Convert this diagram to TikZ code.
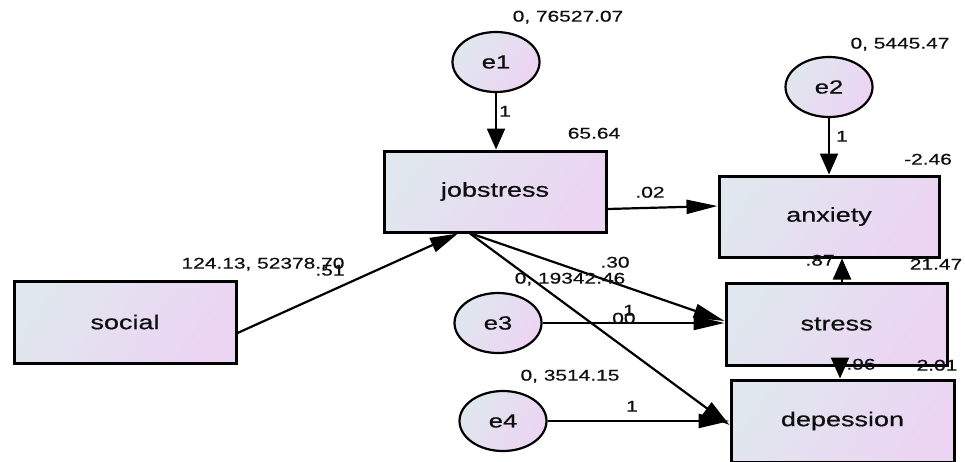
\documentclass[tikz,border=0pt]{standalone}
\usepackage{fontspec}
\setmainfont{Liberation Sans}[FakeStretch=1.35,FakeBold=0.6]
\usetikzlibrary{arrows.meta,shapes.geometric}
\definecolor{fillA}{RGB}{224,231,238}
\definecolor{fillB}{RGB}{236,212,243}
\definecolor{inkc}{RGB}{15,15,15}
\tikzset{
  varbox/.style={draw=black, line width=3pt, rectangle, inner sep=0pt,
    minimum width=222pt, minimum height=82pt,
    left color=fillA, right color=fillB, shading angle=55,
    font=\fontsize{20}{22}\selectfont, text=inkc},
  errnode/.style={draw=black, line width=2.2pt, ellipse, inner sep=0pt,
    minimum width=87pt, minimum height=60pt,
    left color=fillA, right color=fillB, shading angle=55,
    font=\fontsize{19}{21}\selectfont, text=inkc},
  est/.style={inner sep=0pt, text height=0.72em, text depth=0pt,
    font=\fontsize{15.5}{17}\selectfont, text=inkc},
  path/.style={draw=black, line width=2.2pt},
  harr/.style={path, -{Triangle[length=31pt,width=14pt]}},
  varr/.style={path, -{Triangle[length=21pt,width=18pt]}},
  darr/.style={path, -{Triangle[length=28pt,width=15pt]}}
}
\begin{document}
\begin{tikzpicture}[x=1pt,y=-1pt]
\useasboundingbox (0,0) rectangle (965,461);

% observed variables
\node[varbox] (social) at (125,322) {social};
\node[varbox, minimum height=81pt] (jobstress) at (495,191.5) {jobstress};
\node[varbox, minimum width=220pt, minimum height=81pt] (anxiety) at (829,216.5) {anxiety};
\node[varbox, minimum width=221pt] (stress) at (836.5,324) {stress};
\node[varbox, minimum width=223pt] (depession) at (842.5,421) {depession};

% error terms
\node[errnode] (e1) at (496,62) {e1};
\node[errnode] (e2) at (829,87) {e2};
\node[errnode] (e3) at (498,323) {e3};
\node[errnode] (e4) at (503,421) {e4};

% regression paths
\draw[varr] (e1.south) -- (e1.south |- jobstress.north);
\draw[varr] (e2.south) -- (e2.south |- anxiety.north);
\draw[harr] ([yshift=-17.5pt]jobstress.east) -- ([yshift=10.5pt]anxiety.west);
\draw[darr] ([yshift=-11pt]social.east) -- ([xshift=-37pt]jobstress.south);
\draw[harr] ([xshift=-24pt]jobstress.south) -- ([yshift=3pt]stress.west);
\draw[darr] ([xshift=-25pt]jobstress.south) -- ([yshift=-4pt]depession.west);
\draw[harr] (e3.east) -- (e3.east -| stress.west);
\draw[harr] (e4.east) -- (e4.east -| depession.west);
\draw[varr] ([xshift=5.5pt]stress.north) -- ([xshift=5.5pt]stress.north |- anxiety.south);
\draw[varr] ([xshift=3.5pt]stress.south) -- ([xshift=3.5pt]stress.south |- depession.north);

% estimates
\node[est] (v1) at (568,18) {0, 76527.07};
\node[est] (w1) at (505,113) {1};
\node[est] (i1) at (594,135) {65.64};
\node[est] (v2) at (900,45) {0, 5445.47};
\node[est] (w2) at (842,138) {1};
\node[est] (i2) at (928,161) {-2.46};
\node[est] (b1) at (650,194) {.02};
\node[est] (ms) at (263,265) {124.13, 52378.70};
\node[est] (b2) at (330,272) {.51};
\node[est] (b3) at (615,264) {.30};
\node[est] (v3) at (570,280) {0, 19342.46};
\node[est] (w3) at (629,312) {1};
\node[est] (b4) at (621,320) {.00};
\node[est] (b5) at (820,262) {.87};
\node[est] (i3) at (936,266) {21.47};
\node[est] (b6) at (861,366) {.96};
\node[est] (i4) at (937,367) {2.01};
\node[est] (v4) at (570,377) {0, 3514.15};
\node[est] (w4) at (632,408) {1};
\end{tikzpicture}
\end{document}
